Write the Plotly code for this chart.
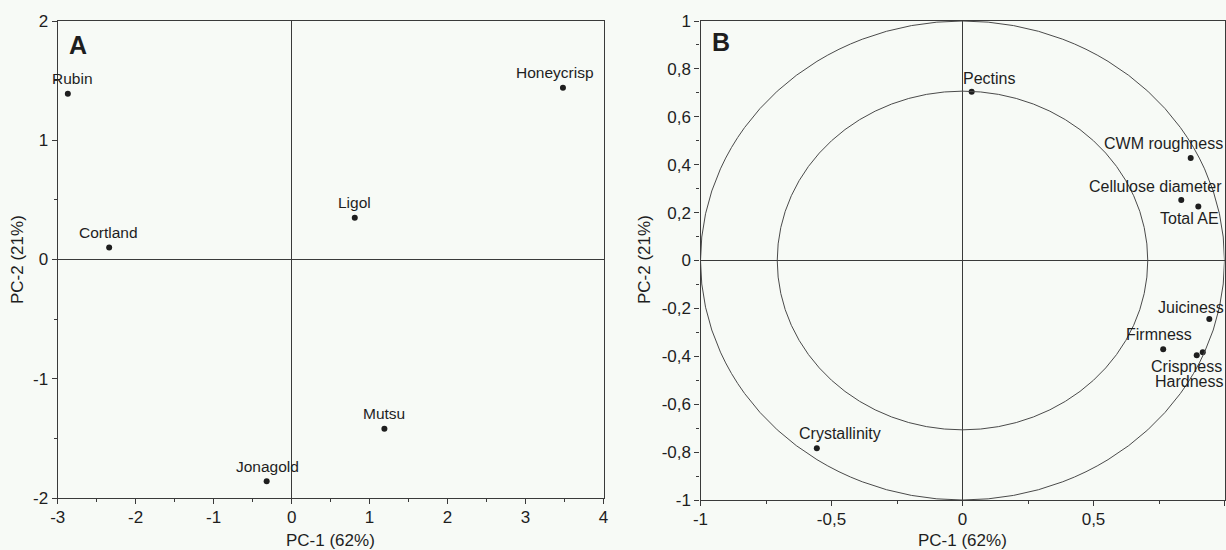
import plotly.graph_objects as go

# ---------------- data ----------------
# Panel A: scores
cultivars = ["Rubin", "Honeycrisp", "Cortland", "Ligol", "Mutsu", "Jonagold"]
pc1_scores = [-2.87, 3.48, -2.34, 0.81, 1.19, -0.32]
pc2_scores = [1.39, 1.44, 0.10, 0.35, -1.42, -1.86]

# Panel B: loadings
variables = ["Pectins", "CWM roughness", "Cellulose diameter", "Total AE", "Juiciness",
             "Firmness", "Crispness", "Hardness", "Crystallinity"]
pc1_loadings = [0.035, 0.871, 0.835, 0.900, 0.942, 0.766, 0.917, 0.894, -0.556]
pc2_loadings = [0.705, 0.428, 0.253, 0.225, -0.244, -0.371, -0.383, -0.396, -0.784]

circle_radii = [1.0, 0.7071]

a_xticks = [-3, -2, -1, 0, 1, 2, 3, 4]
a_xticktext = ["-3", "-2", "-1", "0", "1", "2", "3", "4"]
a_yticks = [-2, -1, 0, 1, 2]
a_yticktext = ["-2", "-1", "0", "1", "2"]
b_xticks = [-1, -0.5, 0, 0.5, 1]
b_xticktext = ["-1", "-0,5", "0", "0,5", "1"]
b_yticks = [-1, -0.8, -0.6, -0.4, -0.2, 0, 0.2, 0.4, 0.6, 0.8, 1]
b_yticktext = ["-1", "-0,8", "-0,6", "-0,4", "-0,2", "0", "0,2", "0,4", "0,6", "0,8", "1"]

x_title = "PC-1 (62%)"
y_title = "PC-2 (21%)"

# label offsets in pixels (dx, dy) relative to the point (style, not data)
a_label_offsets = [(5, 15), (-8, 15), (-1, 15), (0, 15), (0, 15), (1, 15)]
b_label_offsets = [(17, 13), (-27, 14), (-26, 13), (-9, -12), (-18, 11),
                   (-4, 15), (-16, -14), (-8, -26), (23, 15)]

# ---------------- styling ----------------
BG = "#f7faf6"
INK = "#1e1e1e"
LINE = "#3a3a3a"
FONT = "Liberation Sans, Arial, sans-serif"

W, H = 1226, 550
a_dom_x = [57.7 / W, 603.5 / W]
a_dom_y = [1 - 498 / H, 1 - 21 / H]
b_dom_x = [700.5 / W, 1224.5 / W]
b_dom_y = [1 - 500 / H, 1 - 21 / H]

fig = go.Figure()

fig.add_trace(go.Scatter(x=pc1_scores, y=pc2_scores, mode="markers",
                         marker=dict(size=6, color=INK), xaxis="x", yaxis="y",
                         hoverinfo="text", text=cultivars, showlegend=False))
fig.add_trace(go.Scatter(x=pc1_loadings, y=pc2_loadings, mode="markers",
                         marker=dict(size=6, color=INK), xaxis="x2", yaxis="y2",
                         hoverinfo="text", text=variables, showlegend=False))

annotations = []
for name, xv, yv, (dx, dy) in zip(cultivars, pc1_scores, pc2_scores, a_label_offsets):
    annotations.append(dict(x=xv, y=yv, xref="x", yref="y", text=name, showarrow=False,
                            xanchor="center", yanchor="middle",
                            xshift=dx, yshift=dy, font=dict(family=FONT, size=15.5, color=INK)))
for name, xv, yv, (dx, dy) in zip(variables, pc1_loadings, pc2_loadings, b_label_offsets):
    annotations.append(dict(x=xv, y=yv, xref="x2", yref="y2", text=name, showarrow=False,
                            xanchor="center", yanchor="middle",
                            xshift=dx, yshift=dy, font=dict(family=FONT, size=16, color=INK)))

# panel letters
annotations.append(dict(x=77.5 / W, y=1 - 45 / H, xref="paper", yref="paper", text="<b>A</b>",
                        xanchor="center", yanchor="middle",
                        showarrow=False, font=dict(family=FONT, size=25, color=INK)))
annotations.append(dict(x=721 / W, y=1 - 42 / H, xref="paper", yref="paper", text="<b>B</b>",
                        xanchor="center", yanchor="middle",
                        showarrow=False, font=dict(family=FONT, size=25, color=INK)))

# axis titles
for cx, cyx in [((a_dom_x[0] + a_dom_x[1]) / 2, 18 / W), ((b_dom_x[0] + b_dom_x[1]) / 2, 645 / W)]:
    annotations.append(dict(x=cx, y=1 - 540.5 / H, xref="paper", yref="paper", text=x_title,
                            xanchor="center", yanchor="middle",
                            showarrow=False, font=dict(family=FONT, size=17, color=INK)))
    annotations.append(dict(x=cyx, y=1 - 260 / H, xref="paper", yref="paper", text=y_title,
                            xanchor="center", yanchor="middle",
                            textangle=-90, showarrow=False,
                            font=dict(family=FONT, size=17, color=INK)))

shapes = []
for r in circle_radii:
    shapes.append(dict(type="circle", xref="x2", yref="y2", x0=-r, y0=-r, x1=r, y1=r,
                       line=dict(color="#4a4a4a", width=1)))

common_axis = dict(showline=True, mirror=True, linecolor=LINE, linewidth=1.3,
                   showgrid=False, zeroline=True, zerolinecolor=LINE, zerolinewidth=1,
                   ticks="outside", ticklen=5, tickcolor=LINE, tickwidth=1, automargin=False,
                   tickfont=dict(family=FONT, size=17, color=INK), tickmode="array")

minor_style = dict(ticks="outside", ticklen=3, tickcolor=LINE, tickwidth=1, showgrid=False)

fig.update_layout(
    width=W, height=H, margin=dict(l=0, r=0, t=0, b=0, pad=0, autoexpand=False),
    paper_bgcolor=BG, plot_bgcolor=BG, showlegend=False,
    xaxis=dict(domain=a_dom_x, anchor="y", range=[-3, 4], tickvals=a_xticks,
               ticktext=a_xticktext, ticklabelstandoff=-2,
               minor=dict(tickmode="linear", tick0=-3, dtick=0.5, **minor_style), **common_axis),
    yaxis=dict(domain=a_dom_y, anchor="x", range=[-2, 2], tickvals=a_yticks,
               ticktext=a_yticktext,
               minor=dict(tickmode="linear", tick0=-2, dtick=0.5, **minor_style), **common_axis),
    xaxis2=dict(domain=b_dom_x, anchor="y2", range=[-1, 1], tickvals=b_xticks,
                ticktext=b_xticktext, ticklabelstandoff=-2,
                minor=dict(tickmode="linear", tick0=-1, dtick=0.25, **minor_style), **common_axis),
    yaxis2=dict(domain=b_dom_y, anchor="x2", range=[-1, 1], tickvals=b_yticks,
                ticktext=b_yticktext,
                minor=dict(tickmode="linear", tick0=-1, dtick=0.1, **minor_style), **common_axis),
    annotations=annotations,
    shapes=shapes,
)

fig.write_html(
    "out.html",
    post_script="document.body.style.margin='0';document.body.style.overflow='hidden';",
)
